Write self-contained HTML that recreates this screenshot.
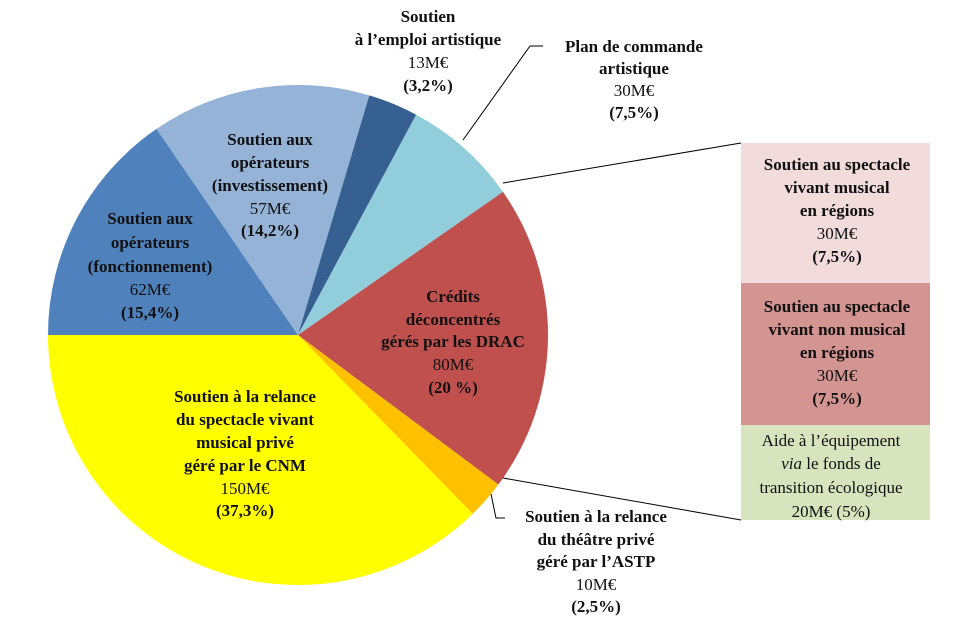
<!DOCTYPE html>
<html><head><meta charset="utf-8"><style>
html,body{margin:0;padding:0;background:#fff;}
svg{display:block;font-family:"Liberation Serif",serif;}
text{font-size:17px;fill:#111;text-anchor:middle;}
.b{font-weight:bold;}
</style></head><body>
<svg id="chart" width="955" height="630" viewBox="0 0 955 630">
<g id="slices"></g>
<g>
<rect x="741" y="143" width="189" height="140" fill="#F2DCDB"/>
<rect x="741" y="283" width="189" height="142" fill="#D49492"/>
<rect x="741" y="425" width="189" height="95" fill="#D7E4BD"/>
</g>
<g stroke="#000" stroke-width="1" fill="none">
<line x1="503" y1="183" x2="741" y2="143"/>
<line x1="503" y1="478" x2="741" y2="520"/>
<polyline points="463,140 530,46 543,46"/>
<polyline points="491,494 496,518 505,518"/>
</g>
<g>
<text x="150" y="224" class="b">Soutien aux</text>
<text x="150" y="248" class="b">opérateurs</text>
<text x="150" y="272" class="b">(fonctionnement)</text>
<text x="150" y="295">62M€</text>
<text x="150" y="318" class="b">(15,4%)</text>

<text x="270" y="145" class="b">Soutien aux</text>
<text x="270" y="168" class="b">opérateurs</text>
<text x="270" y="191" class="b">(investissement)</text>
<text x="270" y="214">57M€</text>
<text x="270" y="236" class="b">(14,2%)</text>

<text x="428" y="22" class="b">Soutien</text>
<text x="428" y="45" class="b">à l’emploi artistique</text>
<text x="428" y="68">13M€</text>
<text x="428" y="91" class="b">(3,2%)</text>

<text x="634" y="52" class="b">Plan de commande</text>
<text x="634" y="74" class="b">artistique</text>
<text x="634" y="96">30M€</text>
<text x="634" y="118" class="b">(7,5%)</text>

<text x="453" y="302" class="b">Crédits</text>
<text x="453" y="325" class="b">déconcentrés</text>
<text x="453" y="347" class="b">gérés par les DRAC</text>
<text x="453" y="370">80M€</text>
<text x="453" y="393" class="b">(20 %)</text>

<text x="245" y="402" class="b">Soutien à la relance</text>
<text x="245" y="425" class="b">du spectacle vivant</text>
<text x="245" y="448" class="b">musical privé</text>
<text x="245" y="471" class="b">géré par le CNM</text>
<text x="245" y="494">150M€</text>
<text x="245" y="516" class="b">(37,3%)</text>

<text x="596" y="522" class="b">Soutien à la relance</text>
<text x="596" y="545" class="b">du théâtre privé</text>
<text x="596" y="567" class="b">géré par l’ASTP</text>
<text x="596" y="590">10M€</text>
<text x="596" y="612" class="b">(2,5%)</text>

<text x="837" y="170" class="b">Soutien au spectacle</text>
<text x="837" y="193" class="b">vivant musical</text>
<text x="837" y="216" class="b">en régions</text>
<text x="837" y="239">30M€</text>
<text x="837" y="262" class="b">(7,5%)</text>

<text x="837" y="312" class="b">Soutien au spectacle</text>
<text x="837" y="335" class="b">vivant non musical</text>
<text x="837" y="358" class="b">en régions</text>
<text x="837" y="381">30M€</text>
<text x="837" y="404" class="b">(7,5%)</text>

<text x="831" y="446">Aide à l’équipement</text>
<text x="831" y="469"><tspan font-style="italic">via</tspan> le fonds de</text>
<text x="831" y="493">transition écologique</text>
<text x="831" y="517">20M€ (5%)</text>
</g>
</svg>
<script>
const categories = ["Fonctionnement","Investissement","Emploi artistique","Plan de commande","DRAC","ASTP","CNM"];
const values = [62, 57, 13, 30, 80, 10, 150];
const colors = ["#4F81BD","#95B3D7","#376092","#92CDDC","#C0504D","#FFC000","#FFFF00"];
const cx = 298, cy = 335, r = 250;
const total = values.reduce((a,b)=>a+b,0);
function pt(deg){const a=deg*Math.PI/180;return [cx+r*Math.sin(a), cy-r*Math.cos(a)];}
const g = document.getElementById("slices");
let start = 270;
values.forEach((v,i)=>{
  const sweep = v/total*360;
  const p1 = pt(start), p2 = pt(start+sweep);
  const large = sweep>180?1:0;
  const path = document.createElementNS("http://www.w3.org/2000/svg","path");
  path.setAttribute("d",`M${cx},${cy} L${p1[0]},${p1[1]} A${r},${r} 0 ${large} 1 ${p2[0]},${p2[1]} Z`);
  path.setAttribute("fill",colors[i]);
  
  
  g.appendChild(path);
  start += sweep;
});
</script>
</body></html>
